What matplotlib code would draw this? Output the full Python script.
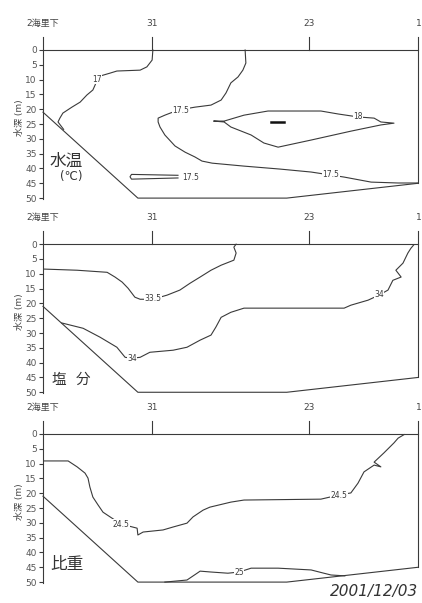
import matplotlib
matplotlib.use("Agg")
import matplotlib.pyplot as plt

plt.rcParams['font.family'] = ['DejaVu Sans', 'Noto Sans CJK JP']

# estaciones sobre el eje superior (distancia relativa 0-100)
estaciones_x = [0, 29, 71, 100]
estaciones_txt = ["2海里下", "31", "23", "1"]
profundidades = list(range(0, 55, 5))

# fondo (distancia, profundidad m)
fondo_x = [0, 25.3, 65, 100]
fondo_d = [21, 50, 50, 45]

# ---- Panel 1: temperatura del agua
t17_x = [29.3, 29.1, 27.7, 25.9, 19.7, 17.9, 15.2, 14.4, 13.9, 13.3, 11.7, 9.9, 7.7, 5.3, 4.5, 4.0, 5.5]
t17_d = [0, 3.4, 5.7, 6.8, 7.1, 7.8, 8.8, 10.1, 11.8, 13.5, 15.2, 17.6, 19.3, 21.3, 23.0, 24.3, 26.8]

t175_x = [53.9, 54.1, 53.3, 52.0, 50.1, 48.8, 47.5, 44.8, 40.5, 36.0, 32.5, 30.7, 30.7, 31.2, 32.5,
          35.2, 37.9, 40.5, 42.4, 45.1, 53.6, 63.2, 71.5, 80.3, 87.5, 94.7, 100]
t175_d = [0, 4.4, 6.8, 9.1, 11.1, 14.5, 16.9, 18.6, 19.3, 20.3, 22.0, 23.0, 24.3, 26.0, 28.7,
          32.4, 34.5, 36.1, 37.5, 38.2, 39.2, 40.2, 41.2, 42.9, 44.6, 44.9, 44.9]

t18_x = [45.6, 48.3, 53.6, 60.0, 74.1, 78.7, 84.0, 88.3, 90.1, 93.6, 90.1, 82.1, 71.5, 62.7,
         58.9, 55.5, 50.1, 48.3, 45.6]
t18_d = [24.0, 24.0, 22.0, 20.6, 20.6, 21.6, 22.6, 23.0, 24.3, 24.7, 25.3, 27.4, 30.4, 32.8,
         31.4, 28.7, 26.0, 24.3, 24.0]

t185_x = [60.8, 64.3]
t185_d = [24.3, 24.3]

t175b_x = [36.0, 23.6, 23.2, 23.6, 36.0]
t175b_d = [42.3, 42.0, 42.8, 43.6, 43.2]

# ---- Panel 2: salinidad
s335_x = [0, 9.1, 17.1, 19.2, 21.1, 22.7, 24.5, 25.9, 29.3, 33.1, 36.5, 39.2, 41.9, 44.8,
          47.5, 50.9, 51.5, 50.9, 51.5]
s335_d = [8.4, 8.8, 9.5, 11.1, 12.8, 14.9, 17.9, 18.6, 18.6, 17.2, 15.5, 13.2, 11.1, 8.8,
          7.1, 5.4, 3.0, 1.0, 0]

s34_x = [5.0, 10.7, 15.2, 19.7, 21.9, 23.7, 25.9, 28.5, 34.7, 38.4, 41.9, 44.8, 46.1, 47.5,
         50.1, 53.6, 62.7, 80.3, 82.1, 86.7, 89.6, 92.0, 93.3, 95.5, 94.1, 96.0, 97.3, 98.1, 98.9]
s34_d = [26.6, 28.4, 31.4, 34.8, 38.2, 38.5, 38.2, 36.5, 35.8, 34.8, 32.4, 30.7, 28.0, 24.7,
         23.0, 21.6, 21.6, 21.6, 20.6, 18.9, 17.2, 15.5, 12.2, 11.1, 8.8, 6.4, 3.0, 1.4, 0.2]

# ---- Panel 3: densidad (比重)
r245_x = [0, 6.7, 9.1, 11.2, 12.0, 12.5, 13.3, 14.7, 16.0, 17.9, 20.8, 25.1, 25.3, 26.7, 32.0,
          34.7, 38.4, 40.0, 42.7, 44.5, 50.1, 53.6, 74.1, 78.9, 82.1, 84.0, 85.6, 88.3, 90.1,
          88.3, 90.9, 93.6, 94.7, 96.3]
r245_d = [9.1, 9.1, 11.1, 13.2, 14.9, 17.9, 21.3, 24.0, 26.4, 28.0, 30.4, 31.8, 34.1, 33.1, 32.4,
          31.4, 30.1, 28.0, 25.7, 24.7, 23.0, 22.3, 22.0, 20.6, 19.9, 16.6, 12.8, 10.5, 11.1,
          9.5, 6.4, 3.0, 1.4, 0.2]

r25_x = [32.5, 38.4, 41.1, 41.9, 44.8, 49.3, 52.3, 55.5, 62.7, 71.5, 74.9, 76.8, 80.5]
r25_d = [50, 49.3, 47.0, 46.3, 46.6, 47.0, 46.6, 45.3, 45.3, 45.9, 47.0, 47.6, 47.9]

COLOR = "#3a3a3a"
LW = 0.8


def etiqueta(ax, x, d, texto):
    ax.text(x, d, texto, fontsize=5.5, color=COLOR, ha="center", va="center",
            bbox=dict(facecolor="white", edgecolor="none", pad=0.3))


def panel(ax, nombre, nombre_pos, nombre_size):
    ax.set_xlim(0, 100)
    ax.set_ylim(50.3, -4.4)
    for lado in ["top", "right", "bottom"]:
        ax.spines[lado].set_visible(False)
    ax.spines["left"].set_color(COLOR)
    ax.spines["left"].set_linewidth(LW)
    ax.set_xticks([])
    ax.set_yticks(profundidades)
    ax.tick_params(axis="y", length=3, width=LW, color=COLOR, labelsize=6.5,
                   labelcolor="#555555", pad=1.5)
    ax.set_ylabel("水深 (m)", fontsize=6.5, color="#444444", labelpad=1)
    # linea de superficie y marcas de estaciones
    ax.plot([0, 100], [0, 0], color=COLOR, lw=LW, clip_on=False)
    for x in estaciones_x[1:3]:
        ax.plot([x, x], [-4.4, 0], color=COLOR, lw=LW, clip_on=False)
    ax.plot([100, 100], [-4.4, fondo_d[-1]], color=COLOR, lw=LW, clip_on=False)
    for x, t in zip(estaciones_x, estaciones_txt):
        ha = "right" if x == 100 else "center"
        ax.annotate(t, xy=(x + (1 if x == 100 else 0), 0), xytext=(0, 19),
                    textcoords="offset points", ha=ha, va="center",
                    fontsize=6.5, color="#444444", annotation_clip=False)
    ax.plot(fondo_x, fondo_d, color=COLOR, lw=LW, clip_on=False)
    ax.text(nombre_pos[0], nombre_pos[1], nombre, fontsize=nombre_size, color="#333333",
            ha="left", va="center", linespacing=1.1)


fig = plt.figure(figsize=(4.22, 6.03), dpi=100)
ax1 = fig.add_axes([0.1019, 0.670, 0.8886, 0.2687])
ax2 = fig.add_axes([0.1019, 0.348, 0.8886, 0.2687])
ax3 = fig.add_axes([0.1019, 0.0332, 0.8886, 0.2687])

# Panel 1
panel(ax1, "水温", (1.8, 37.5), 12)
ax1.text(4.5, 42.8, "(℃)", fontsize=8.5, color="#333333", ha="left", va="center")
ax1.plot(t17_x, t17_d, color=COLOR, lw=LW)
ax1.plot(t175_x, t175_d, color=COLOR, lw=LW)
ax1.plot(t18_x, t18_d, color=COLOR, lw=LW)
ax1.plot(t185_x, t185_d, color="#111111", lw=1.8)
ax1.plot(t175b_x, t175b_d, color=COLOR, lw=LW)
etiqueta(ax1, 14.3, 9.8, "17")
etiqueta(ax1, 36.8, 20.3, "17.5")
etiqueta(ax1, 76.8, 41.9, "17.5")
etiqueta(ax1, 84.0, 22.6, "18")
etiqueta(ax1, 39.5, 43.2, "17.5")

# Panel 2
panel(ax2, "塩  分", (2.5, 45.5), 10.5)
ax2.plot(s335_x, s335_d, color=COLOR, lw=LW)
ax2.plot(s34_x, s34_d, color=COLOR, lw=LW)
etiqueta(ax2, 29.3, 18.2, "33.5")
etiqueta(ax2, 23.7, 38.5, "34")
etiqueta(ax2, 89.6, 16.9, "34")

# Panel 3
panel(ax3, "比重", (2.0, 43.8), 12)
ax3.plot(r245_x, r245_d, color=COLOR, lw=LW)
ax3.plot(r25_x, r25_d, color=COLOR, lw=LW)
etiqueta(ax3, 20.8, 30.4, "24.5")
etiqueta(ax3, 78.9, 20.6, "24.5")
etiqueta(ax3, 52.3, 46.6, "25")

fig.text(0.99, 0.019, "2001/12/03", fontsize=11, style="italic", color="#333333",
         ha="right", va="center")

fig.savefig("out.png", dpi=100)
